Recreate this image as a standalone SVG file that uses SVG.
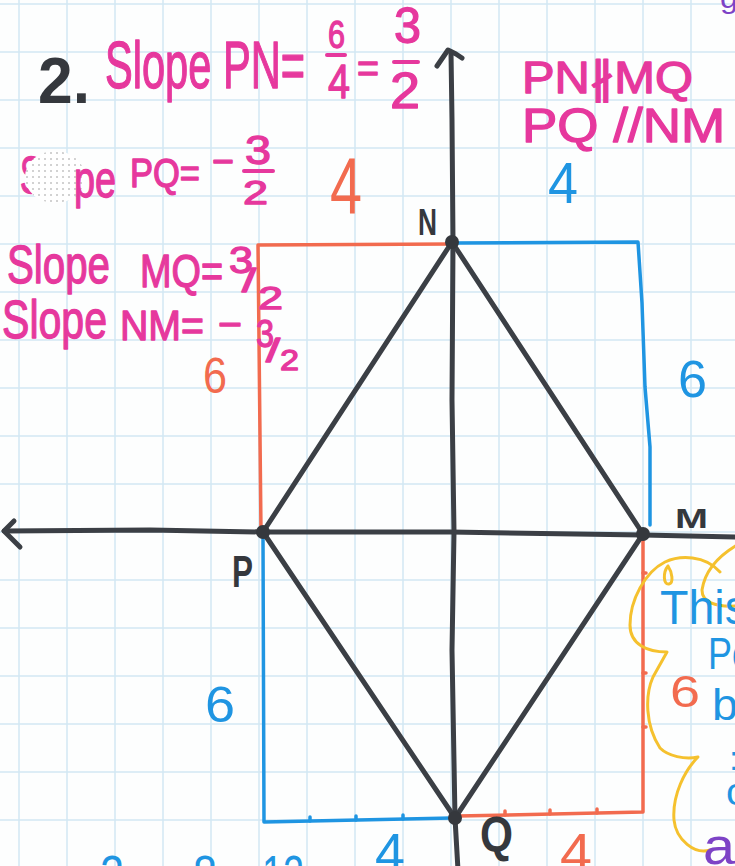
<svg xmlns="http://www.w3.org/2000/svg" width="735" height="866" viewBox="0 0 735 866">
<defs>
<pattern id="dots" width="6" height="6" patternUnits="userSpaceOnUse">
<rect width="6" height="6" fill="#ffffff"/>
<circle cx="3" cy="3" r="0.8" fill="#9a9a9a"/>
</pattern>
<style>
.grid line{stroke:#d2e7f3;stroke-width:1.5}
.t{font-family:"Liberation Sans","DejaVu Sans",Arial,sans-serif}
.pk{fill:#e6389d;stroke:#e6389d;stroke-width:1.3;stroke-linejoin:round}
.dk{fill:#35383d}
.or{fill:#f26b4f}
.bl{fill:#1f95e2}
.pu{fill:#7d43c6}
.ax{fill:none;stroke:#3b3f45;stroke-width:5;stroke-linecap:round;stroke-linejoin:round}
.oe{fill:none;stroke:#f26b4f;stroke-width:3.5;stroke-linecap:round;stroke-linejoin:round}
.be{fill:none;stroke:#1f95e2;stroke-width:3.5;stroke-linecap:round;stroke-linejoin:round}
.ye{fill:none;stroke:#f5c12e;stroke-width:3;stroke-linecap:round;stroke-linejoin:round}
.bar{stroke:#e6389d;stroke-width:4;stroke-linecap:round}
</style>
</defs>
<rect width="735" height="866" fill="#fdfefe"/>
<g class="grid">
<line x1="19" y1="0" x2="19" y2="866"/><line x1="67" y1="0" x2="67" y2="866"/><line x1="115" y1="0" x2="115" y2="866"/><line x1="163" y1="0" x2="163" y2="866"/><line x1="211" y1="0" x2="211" y2="866"/><line x1="259" y1="0" x2="259" y2="866"/><line x1="307" y1="0" x2="307" y2="866"/><line x1="355" y1="0" x2="355" y2="866"/><line x1="403" y1="0" x2="403" y2="866"/><line x1="451" y1="0" x2="451" y2="866"/><line x1="499" y1="0" x2="499" y2="866"/><line x1="547" y1="0" x2="547" y2="866"/><line x1="595" y1="0" x2="595" y2="866"/><line x1="643" y1="0" x2="643" y2="866"/><line x1="691" y1="0" x2="691" y2="866"/>
<line x1="0" y1="4" x2="735" y2="4"/><line x1="0" y1="52" x2="735" y2="52"/><line x1="0" y1="100" x2="735" y2="100"/><line x1="0" y1="148" x2="735" y2="148"/><line x1="0" y1="196" x2="735" y2="196"/><line x1="0" y1="244" x2="735" y2="244"/><line x1="0" y1="292" x2="735" y2="292"/><line x1="0" y1="340" x2="735" y2="340"/><line x1="0" y1="388" x2="735" y2="388"/><line x1="0" y1="436" x2="735" y2="436"/><line x1="0" y1="484" x2="735" y2="484"/><line x1="0" y1="532" x2="735" y2="532"/><line x1="0" y1="580" x2="735" y2="580"/><line x1="0" y1="628" x2="735" y2="628"/><line x1="0" y1="676" x2="735" y2="676"/><line x1="0" y1="724" x2="735" y2="724"/><line x1="0" y1="772" x2="735" y2="772"/><line x1="0" y1="820" x2="735" y2="820"/>
</g>

<g id="rectangles">
<path class="oe" d="M452,244 L258,245 L261,532"/>
<path class="be" d="M452,243 L638,242 L642,303 L645,387 L650,447 L650,525"/>
<path class="be" d="M263,538 L264,822 L452,818"/>
<path class="be" d="M310,821 v-4 M356,820 v-4 M403,819 v-4"/>
<path class="oe" d="M458,816 L643,812 L643,540"/>
<path class="oe" d="M505,815 v-4 M550,814 v-4 M597,813 v-4 M643,573 h3 M643,673 h3 M643,727 h3"/>
</g>

<g id="connectors">
<path class="ax" d="M451,52 L452,120 L453,242 L452,400 L454,532 L452,650 L455,818 L458,870"/>
<path class="ax" d="M437,66 L448,50 L456,54 L462,58"/>
<path class="ax" d="M4,531 L150,530 L263,532 L450,532 L643,535 L740,537"/>
<path class="ax" d="M14,521 L4,531 L20,547"/>
<path class="ax" d="M263,532 L452,242 L643,534 L455,818 Z"/>
</g>

<g id="node-N"><circle cx="452" cy="242" r="7" fill="#35383d"/><text class="t dk" x="418" y="235" font-size="36" font-weight="bold" textLength="19" lengthAdjust="spacingAndGlyphs">N</text></g>
<g id="node-P"><circle cx="263" cy="532" r="7" fill="#35383d"/><text class="t dk" x="232" y="587" font-size="44" font-weight="bold" textLength="21" lengthAdjust="spacingAndGlyphs">P</text></g>
<g id="node-M"><circle cx="643" cy="534" r="7" fill="#35383d"/><text class="t dk" x="675" y="528" font-size="28" font-weight="bold" textLength="33" lengthAdjust="spacingAndGlyphs">M</text></g>
<g id="node-Q"><circle cx="455" cy="818" r="7" fill="#35383d"/><text class="t dk" x="480" y="852" font-size="50" font-weight="bold" textLength="33" lengthAdjust="spacingAndGlyphs">Q</text></g>

<g id="side-labels">
<text class="t or" x="330" y="213" font-size="80" textLength="32" lengthAdjust="spacingAndGlyphs">4</text>
<text class="t bl" x="548" y="203" font-size="58" textLength="30" lengthAdjust="spacingAndGlyphs">4</text>
<text class="t or" x="203" y="393" font-size="50" textLength="24" lengthAdjust="spacingAndGlyphs">6</text>
<text class="t bl" x="678" y="397" font-size="52" textLength="29" lengthAdjust="spacingAndGlyphs">6</text>
<text class="t bl" x="205" y="722" font-size="50" textLength="30" lengthAdjust="spacingAndGlyphs">6</text>
<text class="t or" x="670" y="707" font-size="44" textLength="30" lengthAdjust="spacingAndGlyphs">6</text>
<text class="t bl" x="375" y="872" font-size="56" textLength="30" lengthAdjust="spacingAndGlyphs">4</text>
<text class="t or" x="560" y="872" font-size="56" textLength="32" lengthAdjust="spacingAndGlyphs">4</text>
</g>

<g id="work">
<text class="t dk" x="38" y="103" font-size="64" font-weight="bold" textLength="52" lengthAdjust="spacingAndGlyphs">2.</text>
<text class="t pk" x="105" y="88" font-size="66" textLength="200" lengthAdjust="spacingAndGlyphs">Slope PN=</text>
<text class="t pk" x="328" y="48" font-size="38" textLength="17" lengthAdjust="spacingAndGlyphs">6</text>
<line class="bar" x1="327" y1="55" x2="345" y2="55"/>
<text class="t pk" x="328" y="98" font-size="48" textLength="22" lengthAdjust="spacingAndGlyphs">4</text>
<text class="t pk" x="357" y="82" font-size="40" textLength="22" lengthAdjust="spacingAndGlyphs">=</text>
<text class="t pk" x="394" y="43" font-size="50" textLength="27" lengthAdjust="spacingAndGlyphs">3</text>
<line class="bar" x1="394" y1="62" x2="418" y2="62"/>
<text class="t pk" x="390" y="108" font-size="50" textLength="30" lengthAdjust="spacingAndGlyphs">2</text>

<text class="t pk" x="20" y="193" font-size="52" textLength="22" lengthAdjust="spacingAndGlyphs">S</text>
<ellipse cx="55" cy="177" rx="30" ry="26" fill="url(#dots)"/>
<text class="t pk" x="74" y="197" font-size="52" textLength="42" lengthAdjust="spacingAndGlyphs">pe</text>
<text class="t pk" x="130" y="187" font-size="40" textLength="70" lengthAdjust="spacingAndGlyphs">PQ=</text>
<text class="t pk" x="212" y="175" font-size="40" textLength="22" lengthAdjust="spacingAndGlyphs">−</text>
<text class="t pk" x="245" y="164" font-size="40" textLength="26" lengthAdjust="spacingAndGlyphs">3</text>
<line class="bar" x1="244" y1="171" x2="273" y2="171"/>
<text class="t pk" x="243" y="204" font-size="34" textLength="25" lengthAdjust="spacingAndGlyphs">2</text>

<text class="t pk" x="7" y="283" font-size="54" textLength="103" lengthAdjust="spacingAndGlyphs">Slope</text>
<text class="t pk" x="140" y="287" font-size="46" textLength="83" lengthAdjust="spacingAndGlyphs">MQ=</text>
<text class="t pk" x="229" y="273" font-size="36" textLength="24" lengthAdjust="spacingAndGlyphs">3</text>
<text class="t pk" x="242" y="292" font-size="34" textLength="14" lengthAdjust="spacingAndGlyphs">/</text>
<text class="t pk" x="258" y="309" font-size="32" textLength="25" lengthAdjust="spacingAndGlyphs">2</text>

<text class="t pk" x="2" y="338" font-size="54" textLength="105" lengthAdjust="spacingAndGlyphs">Slope</text>
<text class="t pk" x="120" y="340" font-size="42" textLength="84" lengthAdjust="spacingAndGlyphs">NM=</text>
<text class="t pk" x="218" y="338" font-size="40" textLength="24" lengthAdjust="spacingAndGlyphs">−</text>
<text class="t pk" x="256" y="347" font-size="38" textLength="18" lengthAdjust="spacingAndGlyphs">3</text>
<text class="t pk" x="266" y="362" font-size="34" textLength="14" lengthAdjust="spacingAndGlyphs">/</text>
<text class="t pk" x="280" y="370" font-size="30" textLength="19" lengthAdjust="spacingAndGlyphs">2</text>

<text class="t pk" x="522" y="93" font-size="44" textLength="171" lengthAdjust="spacingAndGlyphs">PN∦MQ</text>
<text class="t pk" x="522" y="142" font-size="48" textLength="203" lengthAdjust="spacingAndGlyphs">PQ //NM</text>
</g>

<g id="note">
<path class="ye" d="M720,572 C705,555 680,555 665,562 C645,572 630,600 630,625 C630,645 648,652 667,652 L653,677 C645,695 645,725 660,748 C668,756 685,760 698,757 C685,770 672,795 674,820 C676,840 695,855 710,850"/>
<path class="ye" d="M668,566 C663,572 663,585 669,584 C674,583 672,572 668,566"/>
<path class="ye" d="M737,545 C720,555 705,570 702,590 C702,602 715,607 735,606"/>
<text class="t bl" x="660" y="624" font-size="48" textLength="88" lengthAdjust="spacingAndGlyphs">This</text>
<text class="t bl" x="708" y="669" font-size="44" textLength="44" lengthAdjust="spacingAndGlyphs">Po</text>
<text class="t bl" x="712" y="720" font-size="45" textLength="26" lengthAdjust="spacingAndGlyphs">b</text>
<text class="t bl" x="729" y="770" font-size="34" textLength="10" lengthAdjust="spacingAndGlyphs">:</text>
<text class="t bl" x="726" y="805" font-size="38" textLength="20" lengthAdjust="spacingAndGlyphs">c</text>
<text class="t pu" x="703" y="864" font-size="52" textLength="32" lengthAdjust="spacingAndGlyphs">a</text>
<text class="t pu" x="720" y="8" font-size="30" textLength="18" lengthAdjust="spacingAndGlyphs">g</text>
</g>

<g id="bottom-row">
<text class="t bl" x="100" y="892" font-size="52" textLength="24" lengthAdjust="spacingAndGlyphs">2</text>
<text class="t bl" x="193" y="892" font-size="52" textLength="24" lengthAdjust="spacingAndGlyphs">8</text>
<text class="t bl" x="262" y="892" font-size="52" textLength="42" lengthAdjust="spacingAndGlyphs">12</text>
</g>
</svg>
